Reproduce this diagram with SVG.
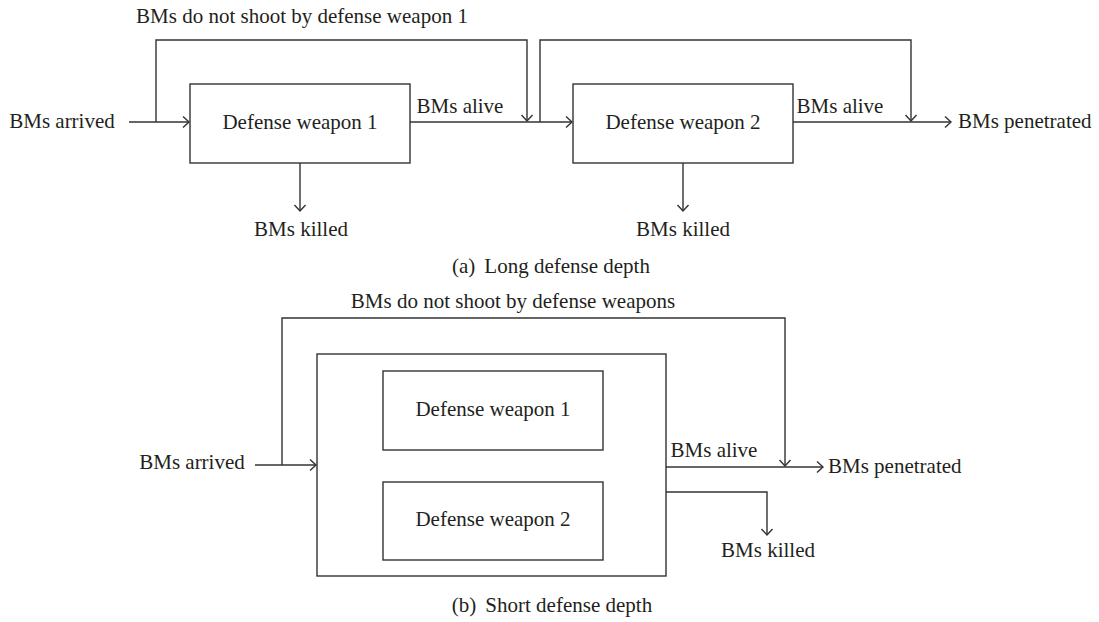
<svg xmlns="http://www.w3.org/2000/svg" width="1099" height="622" viewBox="0 0 1099 622">
<style>
  text { font-family: "Liberation Serif", "Times New Roman", serif; font-size: 21px; fill: #231f20; }
  .m { text-anchor: middle; }
  .box { fill: #ffffff; stroke: #333333; stroke-width: 1.4; }
  .c { fill: none; stroke: #333333; stroke-width: 1.4; }
  .a { marker-end: url(#arr); }
</style>
<defs>
  <marker id="arr" markerUnits="userSpaceOnUse" markerWidth="14" markerHeight="14" viewBox="-8 -7 10 14" refX="0" refY="0" orient="auto" overflow="visible">
    <path d="M-6,-5.5 L0,0 L-6,5.5" fill="none" stroke="#333333" stroke-width="1.4"/>
  </marker>
</defs>
<rect width="1099" height="622" fill="#ffffff"/>

<g id="connectors">
  <!-- (a) -->
  <path class="c a" d="M129 122 H189"/>
  <path class="c a" d="M156 122 V40 H527 V121"/>
  <path class="c a" d="M410 122 H572"/>
  <path class="c a" d="M540 122 V40 H911 V121"/>
  <path class="c a" d="M793 122 H951"/>
  <path class="c a" d="M300 163 V211"/>
  <path class="c a" d="M683 163 V211"/>
  <!-- (b) -->
  <path class="c a" d="M255 465 H316"/>
  <path class="c a" d="M282 465 V318 H785 V466"/>
  <path class="c a" d="M666 467 H823"/>
  <path class="c a" d="M666 492 H767 V535"/>
</g>

<g id="a-weapon1">
  <rect class="box" x="190" y="84" width="220" height="79"/>
  <text class="m" x="300" y="129">Defense weapon 1</text>
</g>
<g id="a-weapon2">
  <rect class="box" x="573" y="84" width="220" height="79"/>
  <text class="m" x="683" y="129">Defense weapon 2</text>
</g>

<g id="b-group">
  <rect class="box" x="317" y="354" width="349" height="222"/>
</g>
<g id="b-weapon1">
  <rect class="box" x="383" y="371" width="220" height="79"/>
  <text class="m" x="493" y="416">Defense weapon 1</text>
</g>
<g id="b-weapon2">
  <rect class="box" x="383" y="482" width="220" height="78"/>
  <text class="m" x="493" y="526">Defense weapon 2</text>
</g>

<g id="labels">
  <text class="m" x="302" y="23">BMs do not shoot by defense weapon 1</text>
  <text class="m" x="62" y="128">BMs arrived</text>
  <text class="m" x="460" y="113">BMs alive</text>
  <text class="m" x="840" y="113">BMs alive</text>
  <text x="958" y="128">BMs penetrated</text>
  <text class="m" x="301" y="236">BMs killed</text>
  <text class="m" x="683" y="236">BMs killed</text>
  <text class="m" x="551" y="273">(a)<tspan dx="9">Long defense depth</tspan></text>

  <text class="m" x="513" y="308">BMs do not shoot by defense weapons</text>
  <text class="m" x="192" y="469">BMs arrived</text>
  <text class="m" x="714" y="457">BMs alive</text>
  <text x="828" y="473">BMs penetrated</text>
  <text class="m" x="768" y="557">BMs killed</text>
  <text class="m" x="552" y="612">(b)<tspan dx="9">Short defense depth</tspan></text>
</g>
</svg>
